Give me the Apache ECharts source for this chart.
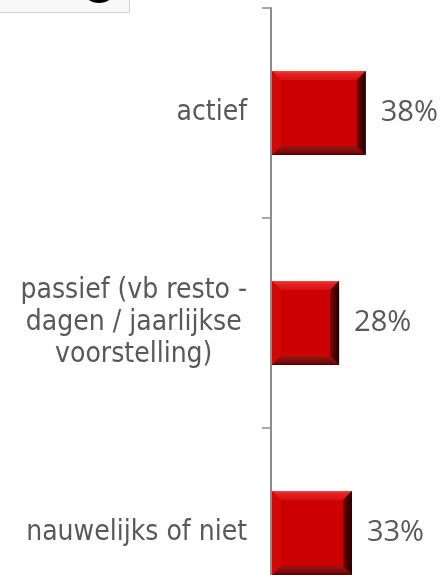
<!DOCTYPE html>
<html>
<head>
<meta charset="utf-8">
<script src="https://cdn.jsdelivr.net/npm/echarts@6/dist/echarts.min.js"></script>
<style>
  html, body { margin: 0; padding: 0; background: #fff; }
  #chart { width: 442px; height: 575px; }
</style>
</head>
<body>
<div id="chart"></div>
<script>
// categories top to bottom, share of respondents (%)
const categories = ['actief', 'passief (vb resto -\ndagen / jaarlijkse\nvoorstelling)', 'nauwelijks of niet'];
const values = [38.4, 27.6, 32.8];

const labelFont = '"DejaVu Sans Condensed", "DejaVu Sans", sans-serif';
const valueFont = '"Open Sans", sans-serif';

// bevelled red bar, drawn from the axis coordinates
function renderBar(params, api) {
  const idx = api.value(0);
  const val = api.value(1);
  const start = api.coord([0, idx]);
  const end = api.coord([val, idx]);
  const h = api.size([0, 1])[1] * 0.4;
  const x0 = start[0] + 1, x1 = end[0];
  const y0 = start[1] - h / 2, y1 = start[1] + h / 2;
  const b = 9;
  return {
    type: 'group',
    children: [
      { type: 'rect', shape: { x: x0, y: y0, width: x1 - x0, height: y1 - y0 }, style: { fill: '#cc0000' } },
      { type: 'polygon', shape: { points: [[x0, y0], [x1, y0], [x1 - b, y0 + b], [x0 + b, y0 + b]] },
        style: { fill: new echarts.graphic.LinearGradient(0, 0, 0, 1, [
          { offset: 0, color: '#f24444' }, { offset: 0.3, color: '#e42222' }, { offset: 1, color: '#d81010' }]) } },
      { type: 'polygon', shape: { points: [[x0, y0], [x0 + b, y0 + b], [x0 + b, y1 - b], [x0, y1]] },
        style: { fill: '#d00808' } },
      { type: 'polygon', shape: { points: [[x1, y0], [x1, y1], [x1 - b, y1 - b], [x1 - b, y0 + b]] },
        style: { fill: new echarts.graphic.LinearGradient(0, 0, 1, 0, [
          { offset: 0, color: '#7a0000' }, { offset: 1, color: '#1e0000' }]) } },
      { type: 'polygon', shape: { points: [[x0, y1], [x0 + b, y1 - b], [x1 - b, y1 - b], [x1, y1]] },
        style: { fill: new echarts.graphic.LinearGradient(0, 0, 0, 1, [
          { offset: 0, color: '#9a1414' }, { offset: 0.7, color: '#7a0a0a' }, { offset: 1, color: '#4a0000' }]) } },
      { type: 'text', x: x1 + 15, y: start[1],
        style: { text: Math.round(val) + '%', fill: '#595959', font: '29px ' + valueFont,
          textAlign: 'left', textVerticalAlign: 'middle' } }
    ]
  };
}

const chart = echarts.init(document.getElementById('chart'));
chart.setOption({
  animation: false,
  backgroundColor: '#fff',
  grid: { left: 271, top: 8, width: 148, height: 630, containLabel: false, outerBoundsMode: 'none' },
  xAxis: { type: 'value', min: 0, max: 60, show: false },
  yAxis: {
    type: 'category',
    data: categories,
    inverse: true,
    axisLine: { show: true, lineStyle: { color: '#8c8c8c', width: 2 } },
    axisTick: { show: true, length: 9, lineStyle: { color: '#8c8c8c', width: 1.5 } },
    axisLabel: {
      interval: 0,
      margin: 24,
      formatter: function (v) {
        return v.split('\n').map(function (l) { return '{c|' + l + '}'; }).join('\n');
      },
      rich: {
        c: { fontFamily: labelFont, fontSize: 28, color: '#595959', lineHeight: 32, align: 'center' }
      }
    }
  },
  graphic: [
    { type: 'rect', left: -1, top: -1, shape: { width: 130, height: 13 },
      style: { fill: '#f8f8f8', stroke: '#d6d6d6', lineWidth: 1 } },
    { type: 'ellipse', shape: { cx: 99, cy: -10, rx: 16, ry: 13 }, style: { fill: '#000' } }
  ],
  series: [{
    type: 'custom',
    renderItem: renderBar,
    encode: { x: 1, y: 0 },
    data: values.map(function (v, i) { return [i, v]; })
  }]
});
</script>
</body>
</html>
